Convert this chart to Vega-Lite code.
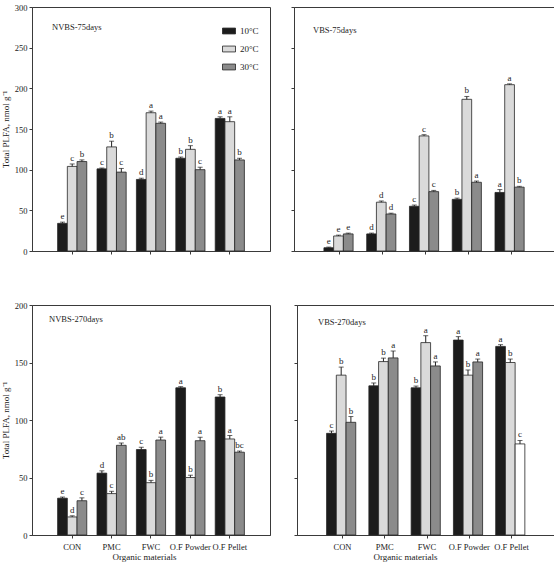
{
  "$schema": "https://vega.github.io/schema/vega-lite/v6.json",
  "background": "white",
  "padding": {"left": 0, "top": 2, "right": 1, "bottom": 0},
  "config": {
    "font": "Liberation Serif",
    "view": {"stroke": "#3a3a3a", "strokeWidth": 1},
    "axis": {
      "labelFont": "Liberation Serif",
      "titleFont": "Liberation Serif",
      "labelFontSize": 8.5,
      "titleFontSize": 9,
      "titleFontWeight": "normal",
      "labelColor": "#222",
      "titleColor": "#222",
      "domainColor": "#3a3a3a",
      "tickColor": "#3a3a3a",
      "grid": false,
      "tickSize": 3,
      "labelPadding": 2
    },
    "title": {"font": "Liberation Serif", "fontSize": 8.5, "fontWeight": "normal", "color": "#222"}
  },
  "datasets": {
    "plfa": [
      {"panel": "NVBS-75days", "material": "CON", "temp": "10°C", "value": 34, "err": 1.5, "letter": "e"},
      {"panel": "NVBS-75days", "material": "CON", "temp": "20°C", "value": 104, "err": 3, "letter": "c"},
      {"panel": "NVBS-75days", "material": "CON", "temp": "30°C", "value": 110, "err": 2, "letter": "b"},
      {"panel": "NVBS-75days", "material": "PMC", "temp": "10°C", "value": 101, "err": 1, "letter": "c"},
      {"panel": "NVBS-75days", "material": "PMC", "temp": "20°C", "value": 128, "err": 7, "letter": "b"},
      {"panel": "NVBS-75days", "material": "PMC", "temp": "30°C", "value": 97, "err": 4.5, "letter": "c"},
      {"panel": "NVBS-75days", "material": "FWC", "temp": "10°C", "value": 88, "err": 1.5, "letter": "d"},
      {"panel": "NVBS-75days", "material": "FWC", "temp": "20°C", "value": 170, "err": 2, "letter": "a"},
      {"panel": "NVBS-75days", "material": "FWC", "temp": "30°C", "value": 157, "err": 1.5, "letter": "a"},
      {"panel": "NVBS-75days", "material": "O.F Powder", "temp": "10°C", "value": 114, "err": 1.5, "letter": "b"},
      {"panel": "NVBS-75days", "material": "O.F Powder", "temp": "20°C", "value": 125, "err": 4.5, "letter": "b"},
      {"panel": "NVBS-75days", "material": "O.F Powder", "temp": "30°C", "value": 100, "err": 3, "letter": "c"},
      {"panel": "NVBS-75days", "material": "O.F Pellet", "temp": "10°C", "value": 163, "err": 2, "letter": "a"},
      {"panel": "NVBS-75days", "material": "O.F Pellet", "temp": "20°C", "value": 159, "err": 6, "letter": "a"},
      {"panel": "NVBS-75days", "material": "O.F Pellet", "temp": "30°C", "value": 112, "err": 2, "letter": "b"},

      {"panel": "VBS-75days", "material": "CON", "temp": "10°C", "value": 4, "err": 0.8, "letter": "e"},
      {"panel": "VBS-75days", "material": "CON", "temp": "20°C", "value": 18.5, "err": 1, "letter": "e"},
      {"panel": "VBS-75days", "material": "CON", "temp": "30°C", "value": 21, "err": 1, "letter": "e"},
      {"panel": "VBS-75days", "material": "PMC", "temp": "10°C", "value": 21, "err": 1, "letter": "d"},
      {"panel": "VBS-75days", "material": "PMC", "temp": "20°C", "value": 60, "err": 1.5, "letter": "d"},
      {"panel": "VBS-75days", "material": "PMC", "temp": "30°C", "value": 45.5, "err": 1, "letter": "d"},
      {"panel": "VBS-75days", "material": "FWC", "temp": "10°C", "value": 55, "err": 1.5, "letter": "c"},
      {"panel": "VBS-75days", "material": "FWC", "temp": "20°C", "value": 141.5, "err": 1.5, "letter": "c"},
      {"panel": "VBS-75days", "material": "FWC", "temp": "30°C", "value": 73, "err": 1.5, "letter": "c"},
      {"panel": "VBS-75days", "material": "O.F Powder", "temp": "10°C", "value": 63.5, "err": 1.5, "letter": "b"},
      {"panel": "VBS-75days", "material": "O.F Powder", "temp": "20°C", "value": 186.5, "err": 3.5, "letter": "b"},
      {"panel": "VBS-75days", "material": "O.F Powder", "temp": "30°C", "value": 84.5, "err": 1.5, "letter": "a"},
      {"panel": "VBS-75days", "material": "O.F Pellet", "temp": "10°C", "value": 72, "err": 3.5, "letter": "a"},
      {"panel": "VBS-75days", "material": "O.F Pellet", "temp": "20°C", "value": 204.5, "err": 1, "letter": "a"},
      {"panel": "VBS-75days", "material": "O.F Pellet", "temp": "30°C", "value": 78.5, "err": 1, "letter": "b"},

      {"panel": "NVBS-270days", "material": "CON", "temp": "10°C", "value": 32, "err": 1, "letter": "e"},
      {"panel": "NVBS-270days", "material": "CON", "temp": "20°C", "value": 15.7, "err": 1, "letter": "d"},
      {"panel": "NVBS-270days", "material": "CON", "temp": "30°C", "value": 29.8, "err": 2.5, "letter": "c"},
      {"panel": "NVBS-270days", "material": "PMC", "temp": "10°C", "value": 53.8, "err": 2, "letter": "d"},
      {"panel": "NVBS-270days", "material": "PMC", "temp": "20°C", "value": 36, "err": 2, "letter": "c"},
      {"panel": "NVBS-270days", "material": "PMC", "temp": "30°C", "value": 78, "err": 2, "letter": "ab"},
      {"panel": "NVBS-270days", "material": "FWC", "temp": "10°C", "value": 74.3, "err": 2, "letter": "c"},
      {"panel": "NVBS-270days", "material": "FWC", "temp": "20°C", "value": 45.5, "err": 2, "letter": "b"},
      {"panel": "NVBS-270days", "material": "FWC", "temp": "30°C", "value": 82.6, "err": 2.5, "letter": "a"},
      {"panel": "NVBS-270days", "material": "O.F Powder", "temp": "10°C", "value": 128, "err": 1, "letter": "a"},
      {"panel": "NVBS-270days", "material": "O.F Powder", "temp": "20°C", "value": 50, "err": 2, "letter": "b"},
      {"panel": "NVBS-270days", "material": "O.F Powder", "temp": "30°C", "value": 82, "err": 3, "letter": "a"},
      {"panel": "NVBS-270days", "material": "O.F Pellet", "temp": "10°C", "value": 120, "err": 2, "letter": "b"},
      {"panel": "NVBS-270days", "material": "O.F Pellet", "temp": "20°C", "value": 83.5, "err": 3, "letter": "a"},
      {"panel": "NVBS-270days", "material": "O.F Pellet", "temp": "30°C", "value": 72, "err": 1, "letter": "bc"},

      {"panel": "VBS-270days", "material": "CON", "temp": "10°C", "value": 88.4, "err": 2, "letter": "c"},
      {"panel": "VBS-270days", "material": "CON", "temp": "20°C", "value": 139, "err": 7, "letter": "b"},
      {"panel": "VBS-270days", "material": "CON", "temp": "30°C", "value": 98, "err": 5, "letter": "b"},
      {"panel": "VBS-270days", "material": "PMC", "temp": "10°C", "value": 129.7, "err": 2.5, "letter": "b"},
      {"panel": "VBS-270days", "material": "PMC", "temp": "20°C", "value": 150.8, "err": 3, "letter": "b"},
      {"panel": "VBS-270days", "material": "PMC", "temp": "30°C", "value": 154, "err": 6, "letter": "a"},
      {"panel": "VBS-270days", "material": "FWC", "temp": "10°C", "value": 128, "err": 1.5, "letter": "b"},
      {"panel": "VBS-270days", "material": "FWC", "temp": "20°C", "value": 167.3, "err": 6, "letter": "a"},
      {"panel": "VBS-270days", "material": "FWC", "temp": "30°C", "value": 147, "err": 3.5, "letter": "a"},
      {"panel": "VBS-270days", "material": "O.F Powder", "temp": "10°C", "value": 169.5, "err": 3, "letter": "a"},
      {"panel": "VBS-270days", "material": "O.F Powder", "temp": "20°C", "value": 139, "err": 4.5, "letter": "b"},
      {"panel": "VBS-270days", "material": "O.F Powder", "temp": "30°C", "value": 150.5, "err": 2.5, "letter": "a"},
      {"panel": "VBS-270days", "material": "O.F Pellet", "temp": "10°C", "value": 164, "err": 1.5, "letter": "a"},
      {"panel": "VBS-270days", "material": "O.F Pellet", "temp": "20°C", "value": 150, "err": 3, "letter": "b"},
      {"panel": "VBS-270days", "material": "O.F Pellet", "temp": "30°C", "value": 79.2, "err": 3, "letter": "c"}
    ]
  },
  "spacing": 44,
  "resolve": {"legend": {"fill": "independent"}},
  "vconcat": [
    {
      "spacing": 19,
      "resolve": {"legend": {"fill": "independent"}},
      "hconcat": [
        {
          "width": 238,
          "height": 244,
          "title": {"text": "NVBS-75days", "anchor": "start", "frame": "group", "orient": "top", "offset": -28, "dx": 20},
          "data": {"name": "plfa"},
          "transform": [
            {"filter": "datum.panel === 'NVBS-75days'"},
            {"calculate": "datum.value + datum.err", "as": "upper"}
          ],
          "encoding": {
            "x": {"field": "material", "type": "nominal", "sort": ["CON", "PMC", "FWC", "O.F Powder", "O.F Pellet"],
                  "scale": {"paddingInner": 0.26, "paddingOuter": 0.65},
                  "axis": {"labels": false, "title": null, "ticks": true}},
            "xOffset": {"field": "temp", "type": "nominal", "sort": ["10°C", "20°C", "30°C"], "scale": {"paddingInner": 0, "paddingOuter": 0}}
          },
          "layer": [
            {
              "mark": {"type": "bar", "stroke": "#262626", "strokeWidth": 0.8},
              "encoding": {
                "y": {"field": "value", "type": "quantitative", "scale": {"domain": [0, 300], "nice": false},
                      "axis": {"values": [0, 50, 100, 150, 200, 250, 300], "title": "Total PLFA, nmol g⁻¹", "titlePadding": 4}},
                "fill": {"field": "temp", "type": "nominal",
                         "scale": {"domain": ["10°C", "20°C", "30°C"], "range": ["#1c1c1c", "#dadada", "#8b8b8b"]},
                         "legend": {"orient": "none", "legendX": 190, "legendY": 17, "title": null,
                                    "symbolType": "M-1,-0.45H1V0.45H-1Z", "symbolSize": 169,
                                    "symbolStrokeColor": "#222", "symbolStrokeWidth": 0.8,
                                    "labelFont": "Liberation Serif", "labelFontSize": 9, "labelColor": "#222",
                                    "rowPadding": 6, "labelOffset": 4}}
              }
            },
            {"mark": {"type": "rule", "color": "#222", "strokeWidth": 1},
             "encoding": {"y": {"field": "value", "type": "quantitative"}, "y2": {"field": "upper"}}},
            {"mark": {"type": "tick", "color": "#222", "thickness": 1, "size": 5},
             "encoding": {"y": {"field": "upper", "type": "quantitative"}}},
            {"mark": {"type": "text", "baseline": "bottom", "dy": -1, "fontSize": 9, "font": "Liberation Serif", "color": "#222"},
             "encoding": {"y": {"field": "upper", "type": "quantitative"}, "text": {"field": "letter"}}}
          ]
        },
        {
          "width": 263,
          "height": 244,
          "title": {"text": "VBS-75days", "anchor": "start", "frame": "group", "orient": "top", "offset": -28, "dx": 19},
          "data": {"name": "plfa"},
          "transform": [
            {"filter": "datum.panel === 'VBS-75days'"},
            {"calculate": "datum.value + datum.err", "as": "upper"}
          ],
          "encoding": {
            "x": {"field": "material", "type": "nominal", "sort": ["CON", "PMC", "FWC", "O.F Powder", "O.F Pellet"],
                  "scale": {"paddingInner": 0.25, "paddingOuter": 0.7},
                  "axis": {"labels": false, "title": null, "ticks": true}},
            "xOffset": {"field": "temp", "type": "nominal", "sort": ["10°C", "20°C", "30°C"], "scale": {"paddingInner": 0, "paddingOuter": 0}}
          },
          "layer": [
            {
              "mark": {"type": "bar", "stroke": "#262626", "strokeWidth": 0.8},
              "encoding": {
                "y": {"field": "value", "type": "quantitative", "scale": {"domain": [0, 300], "nice": false},
                      "axis": {"values": [0, 50, 100, 150, 200, 250, 300], "labels": false, "title": null}},
                "fill": {"field": "temp", "type": "nominal",
                         "scale": {"domain": ["10°C", "20°C", "30°C"], "range": ["#1c1c1c", "#dadada", "#8b8b8b"]},
                         "legend": null}
              }
            },
            {"mark": {"type": "rule", "color": "#222", "strokeWidth": 1},
             "encoding": {"y": {"field": "value", "type": "quantitative"}, "y2": {"field": "upper"}}},
            {"mark": {"type": "tick", "color": "#222", "thickness": 1, "size": 5},
             "encoding": {"y": {"field": "upper", "type": "quantitative"}}},
            {"mark": {"type": "text", "baseline": "bottom", "dy": -1, "fontSize": 9, "font": "Liberation Serif", "color": "#222"},
             "encoding": {"y": {"field": "upper", "type": "quantitative"}, "text": {"field": "letter"}}}
          ]
        }
      ]
    },
    {
      "spacing": 22,
      "resolve": {"legend": {"fill": "independent"}},
      "hconcat": [
        {
          "width": 238,
          "height": 230,
          "title": {"text": "NVBS-270days", "anchor": "start", "frame": "group", "orient": "top", "offset": -22, "dx": 17},
          "data": {"name": "plfa"},
          "transform": [
            {"filter": "datum.panel === 'NVBS-270days'"},
            {"calculate": "datum.value + datum.err", "as": "upper"}
          ],
          "encoding": {
            "x": {"field": "material", "type": "nominal", "sort": ["CON", "PMC", "FWC", "O.F Powder", "O.F Pellet"],
                  "scale": {"paddingInner": 0.26, "paddingOuter": 0.65},
                  "axis": {"labelAngle": 0, "title": "Organic materials", "labelPadding": 4, "titlePadding": 2, "titleX": 112}},
            "xOffset": {"field": "temp", "type": "nominal", "sort": ["10°C", "20°C", "30°C"], "scale": {"paddingInner": 0, "paddingOuter": 0}}
          },
          "layer": [
            {
              "mark": {"type": "bar", "stroke": "#262626", "strokeWidth": 0.8},
              "encoding": {
                "y": {"field": "value", "type": "quantitative", "scale": {"domain": [0, 200], "nice": false},
                      "axis": {"values": [0, 50, 100, 150, 200], "title": "Total PLFA, nmol g⁻¹", "titlePadding": 4}},
                "fill": {"field": "temp", "type": "nominal",
                         "scale": {"domain": ["10°C", "20°C", "30°C"], "range": ["#1c1c1c", "#dadada", "#8b8b8b"]},
                         "legend": null}
              }
            },
            {"mark": {"type": "rule", "color": "#222", "strokeWidth": 1},
             "encoding": {"y": {"field": "value", "type": "quantitative"}, "y2": {"field": "upper"}}},
            {"mark": {"type": "tick", "color": "#222", "thickness": 1, "size": 5},
             "encoding": {"y": {"field": "upper", "type": "quantitative"}}},
            {"mark": {"type": "text", "baseline": "bottom", "dy": -1, "fontSize": 9, "font": "Liberation Serif", "color": "#222"},
             "encoding": {"y": {"field": "upper", "type": "quantitative"}, "text": {"field": "letter"}}}
          ]
        },
        {
          "width": 260,
          "height": 230,
          "title": {"text": "VBS-270days", "anchor": "start", "frame": "group", "orient": "top", "offset": -22, "dx": 21},
          "data": {"name": "plfa"},
          "transform": [
            {"filter": "datum.panel === 'VBS-270days'"},
            {"calculate": "datum.value + datum.err", "as": "upper"}
          ],
          "encoding": {
            "x": {"field": "material", "type": "nominal", "sort": ["CON", "PMC", "FWC", "O.F Powder", "O.F Pellet"],
                  "scale": {"paddingInner": 0.25, "paddingOuter": 0.7},
                  "axis": {"labelAngle": 0, "title": "Organic materials", "labelPadding": 4, "titlePadding": 2, "titleX": 108}},
            "xOffset": {"field": "temp", "type": "nominal", "sort": ["10°C", "20°C", "30°C"], "scale": {"paddingInner": 0, "paddingOuter": 0}}
          },
          "layer": [
            {
              "mark": {"type": "bar", "stroke": "#262626", "strokeWidth": 0.8},
              "encoding": {
                "y": {"field": "value", "type": "quantitative", "scale": {"domain": [0, 200], "nice": false},
                      "axis": {"values": [0, 50, 100, 150, 200], "labels": false, "title": null}},
                "fill": {"condition": {"test": "datum.material === 'O.F Pellet' && datum.temp === '30°C'", "value": "#ffffff"},
                         "field": "temp", "type": "nominal",
                         "scale": {"domain": ["10°C", "20°C", "30°C"], "range": ["#1c1c1c", "#dadada", "#8b8b8b"]},
                         "legend": null}
              }
            },
            {"mark": {"type": "rule", "color": "#222", "strokeWidth": 1},
             "encoding": {"y": {"field": "value", "type": "quantitative"}, "y2": {"field": "upper"}}},
            {"mark": {"type": "tick", "color": "#222", "thickness": 1, "size": 5},
             "encoding": {"y": {"field": "upper", "type": "quantitative"}}},
            {"mark": {"type": "text", "baseline": "bottom", "dy": -1, "fontSize": 9, "font": "Liberation Serif", "color": "#222"},
             "encoding": {"y": {"field": "upper", "type": "quantitative"}, "text": {"field": "letter"}}}
          ]
        }
      ]
    }
  ]
}
